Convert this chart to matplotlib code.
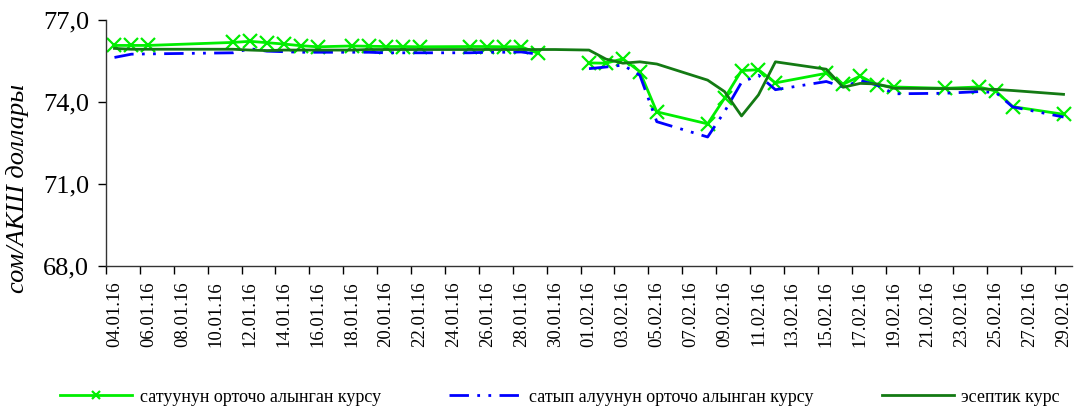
import numpy as np
import pandas as pd
import matplotlib
matplotlib.use('Agg')
import matplotlib.pyplot as plt
import matplotlib.dates as mdates
from matplotlib.ticker import FuncFormatter

plt.rcParams['font.family'] = ['Liberation Serif', 'DejaVu Serif']

days = ['04.01', '05.01', '06.01', '11.01', '12.01', '13.01', '14.01', '15.01', '16.01',
        '18.01', '19.01', '20.01', '21.01', '22.01', '25.01', '26.01', '27.01', '28.01',
        '29.01', '30.01', '01.02', '02.02', '03.02', '04.02', '05.02', '08.02', '09.02',
        '10.02', '11.02', '12.02', '15.02', '16.02', '17.02', '18.02', '19.02', '22.02',
        '24.02', '25.02', '26.02', '29.02']

# сатуунун орточо алынган курсу
sell = [76.07, 76.07, 76.07, 76.18, 76.22, 76.17, 76.12, 76.06, 76.02,
        76.05, 76.04, 76.03, 76.03, 76.02, 76.03, 76.03, 76.02, 76.02,
        75.78, np.nan, 75.43, 75.42, 75.58, 75.11, 73.64, 73.20, 74.14,
        75.15, 75.18, 74.70, 75.05, 74.65, 74.95, 74.62, 74.55, 74.50,
        74.55, 74.40, 73.83, 73.55]

# сатып алуунун орточо алынган курсу
buy = [75.63, 75.75, 75.76, 75.80, 75.95, 75.86, 75.84, 75.82, 75.82,
       75.82, 75.82, 75.80, 75.80, 75.80, 75.80, 75.82, 75.82, 75.83,
       75.75, np.nan, 75.22, 75.28, 75.35, 74.98, 73.28, 72.72, 73.65,
       74.72, 74.98, 74.45, 74.75, 74.55, 74.78, 74.62, 74.30, 74.32,
       74.38, 74.35, 73.82, 73.45]

# эсептик курс
official = [75.96, 75.93, 75.93, 75.93, 75.90, 75.88, 75.90, 75.90, 75.90,
            75.90, 75.92, 75.92, 75.92, 75.92, 75.92, 75.92, 75.92, 75.92,
            75.92, 75.92, 75.90, 75.57, 75.42, 75.47, 75.39, 74.80, 74.38,
            73.49, 74.26, 75.47, 75.20, 74.54, 74.68, 74.66, 74.50, 74.49,
            74.48, 74.46, 74.42, 74.28]

labels = ['сатуунун орточо алынган курсу', 'сатып алуунун орточо алынган курсу', 'эсептик курс']
y_ticks = [68, 71, 74, 77]

dates = pd.to_datetime([d + '.2016' for d in days], format='%d.%m.%Y')
x = mdates.date2num(dates)

fig = plt.figure(figsize=(10.78, 4.17), dpi=100)
ax = fig.add_axes([106 / 1078, 1 - 266 / 417, 966 / 1078, 246 / 417])

ax.plot(x, sell, color='#00EE00', lw=2.0, marker='x', ms=10, mew=1.6, label=labels[0], zorder=2)
ax.plot(x, buy, color='#0000FF', lw=2.0, dashes=(7, 3, 1, 3, 1, 3), label=labels[1], zorder=3)
ax.plot(x, official, color='#137A13', lw=2.0, label=labels[2], zorder=4)

start = mdates.date2num(pd.Timestamp('2016-01-04'))
end = mdates.date2num(pd.Timestamp('2016-02-29'))
ax.set_xlim(start - 0.5, end + 0.5)
ax.set_ylim(68, 77)

major = np.arange(start, end + 1, 2)
ax.set_xticks(major)
ax.set_xticks(major - 0.5, minor=True)
ax.xaxis.set_major_formatter(mdates.DateFormatter('%d.%m.%y'))
ax.tick_params(axis='x', which='major', length=0, pad=11, labelsize=13.5, labelrotation=90)
ax.tick_params(axis='x', which='minor', length=6, width=1, direction='out')

ax.set_yticks(y_ticks)
ax.yaxis.set_major_formatter(FuncFormatter(lambda v, p: f'{v:.1f}'.replace('.', ',')))
ax.tick_params(axis='y', length=6, width=1, pad=6, labelsize=19)

for s in ['top', 'right']:
    ax.spines[s].set_visible(False)
for s in ['left', 'bottom']:
    ax.spines[s].set_linewidth(1.0)
    ax.spines[s].set_color('#333333')

fig.text(18 / 1078, 1 - 188 / 417, 'сом/АКШ доллары', rotation=90, style='italic',
         fontsize=19, ha='center', va='center')

fig.legend(loc='center', bbox_to_anchor=(0.5195, 1 - 397 / 417), ncol=3, frameon=False,
           fontsize=13, handlelength=4.0, handletextpad=0.4, columnspacing=3.8, markerscale=0.6)

fig.savefig('out.png', dpi=100)
